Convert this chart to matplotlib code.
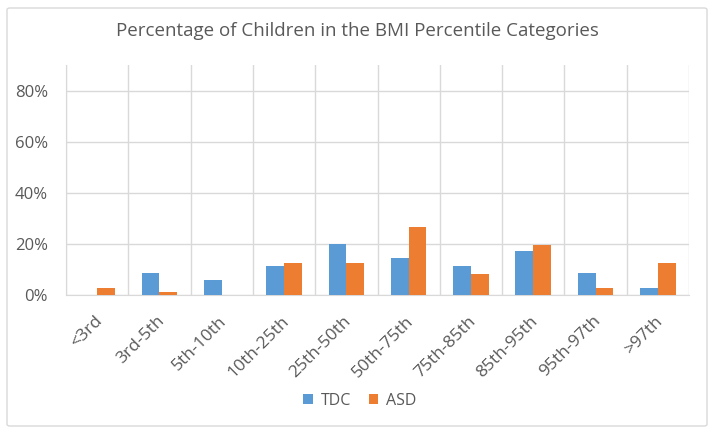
import numpy as np
import matplotlib.pyplot as plt
from matplotlib.patches import FancyBboxPatch
from matplotlib.ticker import PercentFormatter
import matplotlib.transforms as mtransforms

categories = ['<3rd', '3rd-5th', '5th-10th', '10th-25th', '25th-50th',
              '50th-75th', '75th-85th', '85th-95th', '95th-97th', '>97th']
tdc = [0.0, 8.6, 5.7, 11.4, 20.0, 14.3, 11.4, 17.1, 8.6, 2.9]
asd = [2.7, 1.3, 0.0, 12.5, 12.5, 26.5, 8.3, 19.5, 2.7, 12.5]

blue = '#5B9BD5'
orange = '#ED7D31'
grid = '#D9D9D9'
text_col = '#595959'

plt.rcParams['font.family'] = ['Open Sans', 'DejaVu Sans']

fig = plt.figure(figsize=(7.14, 4.34), dpi=100)
ax = fig.add_axes([66 / 714, 1 - 295 / 434, (689 - 66) / 714, (295 - 65) / 434])

# chart border like the Excel chart area
fig.patches.append(FancyBboxPatch((7 / 714, 8 / 434), 700 / 714, 418 / 434,
                                  boxstyle='round,pad=0,rounding_size=0.004',
                                  transform=fig.transFigure, fill=False,
                                  edgecolor=grid, linewidth=1))

x = np.arange(len(categories))
w = 0.285
ax.bar(x - w / 2, tdc, w, color=blue, label='TDC', zorder=3)
ax.bar(x + w / 2, asd, w, color=orange, label='ASD', zorder=3)

ax.set_xlim(-0.5, len(categories) - 0.5)
ax.set_ylim(0, 90)
ax.set_yticks([0, 20, 40, 60, 80])
ax.yaxis.set_major_formatter(PercentFormatter(decimals=0))
ax.yaxis.grid(True, color=grid, linewidth=1, zorder=0)
for b in np.arange(-0.5, len(categories)):
    ax.axvline(b, color=grid, linewidth=1, zorder=0)

for s in ['top', 'right']:
    ax.spines[s].set_visible(False)
ax.spines['left'].set_color(grid)
ax.spines['bottom'].set_color(grid)

ax.tick_params(axis='y', length=0, pad=13, labelsize=12, labelcolor=text_col)
ax.tick_params(axis='x', length=0, pad=13, labelsize=12.5, labelcolor=text_col)
ax.set_xticks(x)
ax.set_xticklabels(categories, rotation=45, ha='right', rotation_mode='anchor')
offset = mtransforms.ScaledTranslation(-3 / 100, 0, fig.dpi_scale_trans)
for lbl in ax.get_xticklabels():
    lbl.set_transform(lbl.get_transform() + offset)

fig.suptitle('Percentage of Children in the BMI Percentile Categories',
             x=357 / 714, y=1 - 31 / 434, va='center', fontsize=13.5, color=text_col)

fig.legend(loc='center', bbox_to_anchor=(360 / 714, 1 - 401 / 434), ncol=2,
           frameon=False, fontsize=11.5, labelcolor=text_col, handlelength=0.6,
           handleheight=0.6, handletextpad=0.5, columnspacing=1.1)

fig.savefig('out.png', dpi=100)
